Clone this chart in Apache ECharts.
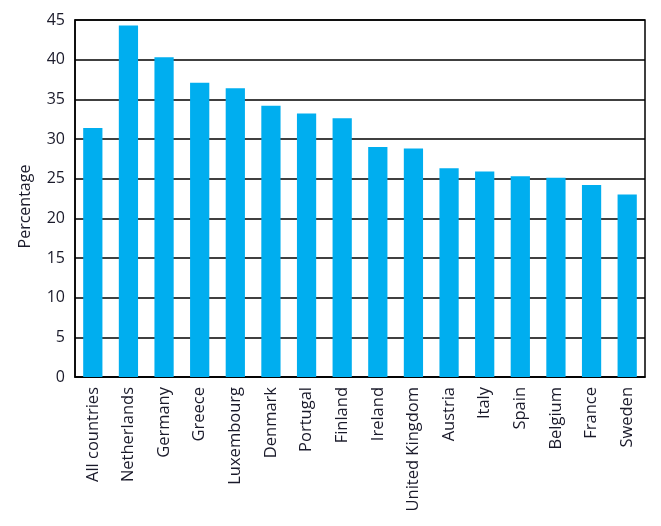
<!DOCTYPE html>
<html>
<head>
<meta charset="utf-8">
<script src="https://cdn.jsdelivr.net/npm/echarts@6/dist/echarts.min.js"></script>
<style>
html,body{margin:0;padding:0;background:#fff;}
#chart{width:661px;height:526px;}
</style>
</head>
<body>
<div id="chart"></div>
<script>
const categories = ["All countries","Netherlands","Germany","Greece","Luxembourg","Denmark","Portugal","Finland","Ireland","United Kingdom","Austria","Italy","Spain","Belgium","France","Sweden"];
const values = [31.4, 44.3, 40.3, 37.1, 36.4, 34.2, 33.2, 32.6, 29.0, 28.8, 26.3, 25.9, 25.3, 25.1, 24.2, 23.0];
const yTicks = [0, 5, 10, 15, 20, 25, 30, 35, 40, 45];

const font = "'Open Sans', 'Noto Sans', sans-serif";
const chart = echarts.init(document.getElementById('chart'), null, {renderer: 'canvas'});
chart.setOption({
  animation: false,
  grid: {left: 75, top: 20, right: 16, bottom: 149, containLabel: false,
         show: true, borderColor: '#000', borderWidth: 1.5},
  xAxis: {
    type: 'category',
    data: categories,
    axisLine: {show: true, lineStyle: {color: '#000', width: 1.5}},
    axisTick: {show: false},
    axisLabel: {rotate: 90, interval: 0, margin: 10, color: '#1a1a2a', fontSize: 16.5, fontFamily: font}
  },
  yAxis: {
    type: 'value',
    min: yTicks[0], max: yTicks[yTicks.length - 1], interval: 5,
    name: 'Percentage',
    nameLocation: 'middle',
    nameGap: 42,
    nameTextStyle: {color: '#1a1a2a', fontSize: 16, fontFamily: font, padding: [0, 16, 0, 0]},
    axisLine: {show: true, lineStyle: {color: '#000', width: 1.5}},
    axisTick: {show: false},
    splitLine: {show: true, lineStyle: {color: '#000', width: 1.5}},
    axisLabel: {color: '#1a1a2a', fontSize: 16, fontFamily: font, margin: 10}
  },
  series: [{
    type: 'bar',
    data: values,
    barWidth: '54%',
    itemStyle: {color: '#00AEEF'}
  }]
});
</script>
</body>
</html>
